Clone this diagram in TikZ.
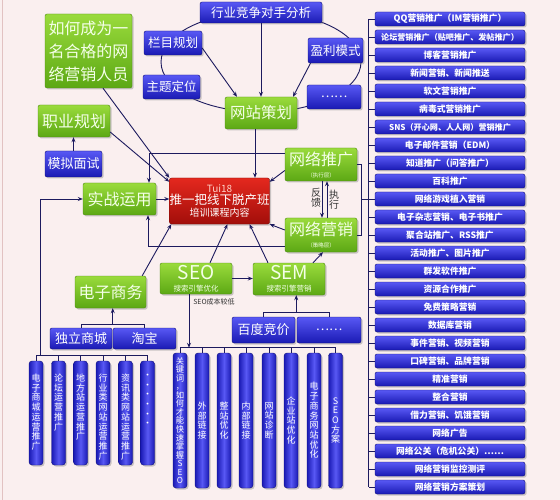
\documentclass[tikz,border=0pt]{standalone}
\usepackage{fontspec}
\setmainfont{Noto Sans CJK SC}
\usetikzlibrary{arrows.meta,shadows,calc}
\definecolor{bg}{HTML}{FAEFEF}
\definecolor{ln}{HTML}{1C1A5E}
\definecolor{gtop}{HTML}{9ADB3C}
\definecolor{gbot}{HTML}{5CA814}
\definecolor{gdark}{HTML}{4C8A12}
\definecolor{gtxt}{HTML}{F4FFE8}
\definecolor{btop}{HTML}{5858F4}
\definecolor{bbot}{HTML}{1A1AB4}
\definecolor{bdark}{HTML}{10107A}
\definecolor{rtop}{HTML}{E4281E}
\definecolor{rbot}{HTML}{A20E0A}
\definecolor{rdark}{HTML}{7A0806}
\definecolor{tuic}{HTML}{FFD2C8}
\definecolor{edge}{HTML}{E2C2C2}
\begin{document}
\begin{tikzpicture}[x=1pt,y=-1pt,
  wh/.style 2 args={minimum width=#1pt,minimum height=#2pt},
  box/.style={rounded corners=2pt, inner sep=0pt, align=center, line width=0.4pt,
     drop shadow={shadow xshift=1.5pt,shadow yshift=-1.5pt,opacity=0.4}},
  gbox/.style={box, top color=gtop, bottom color=gbot, draw=gdark, text=gtxt},
  bbox/.style={box, top color=btop, bottom color=bbot, draw=bdark, text=white},
  rbox/.style={box, top color=rtop, bottom color=rbot, draw=rdark, text=white},
  vbar/.style={bbox, rounded corners=3pt, left color=bbot, right color=bbot, middle color=btop},
  ritem/.style={bbox, wh={150}{14}, font=\fontsize{8.8}{10}\selectfont\bfseries},
  gfont/.style={font=\fontsize{16}{18}\selectfont},
  bfont/.style={font=\fontsize{12.5}{14}\selectfont},
  vtx/.style={inner sep=0pt, align=center, text=white, font=\fontsize{9}{9.7}\selectfont},
  ln/.style={draw=ln, line width=0.9pt},
  arr/.style={ln, -{Stealth[length=5pt,width=4pt]}},
  lbl/.style={inner sep=0pt, align=center, text=black!80}
]
\useasboundingbox (0,0) rectangle (560,500);
\fill[bg] (0,0) rectangle (560,500);
\draw[edge, line width=0.8pt] (2.5,0) -- (2.5,500);

% ring around website planning
\draw[ln] (261,62) ellipse [x radius=100pt, y radius=50pt];

% top group
\node[bbox, wh={122}{21}, bfont] (hyjz) at (261,12.5) {行业竞争对手分析};
\node[bbox, wh={58}{24}, bfont] (lm) at (173,43) {栏目规划};
\node[bbox, wh={57}{24}, bfont] (zt) at (171.5,87) {主题定位};
\node[bbox, wh={55}{25}, bfont] (yl) at (335.5,50.5) {盈利模式};
\node[bbox, wh={54}{24}, bfont] (dt1) at (334,97) {……};
\node[gbox, wh={72}{32}, font=\fontsize{15.5}{17}\selectfont] (wzch) at (261,113) {网站策划};

% left group
\node[gbox, wh={87}{74}, font=\fontsize{16}{23}\selectfont] (hy) at (88.5,51) {如何成为一\\名合格的网\\络营销人员};
\node[gbox, wh={72}{32}, gfont] (zy) at (74,121) {职业规划};
\node[bbox, wh={57}{26}, font=\fontsize{13}{14}\selectfont] (mn) at (73.5,164) {模拟面试};
\node[gbox, wh={73}{32}, gfont] (sz) at (119.5,199) {实战运用};
\node[gbox, wh={71}{32}, gfont] (ds) at (110.5,292) {电子商务};
\node[bbox, wh={62}{21}, font=\fontsize{13}{14}\selectfont] (dl) at (81,338.5) {独立商城};
\node[bbox, wh={63}{21}, font=\fontsize{13}{14}\selectfont] (tb) at (144.5,338.5) {淘宝};

% centre
\node[rbox, wh={97}{46}] (ctr) at (219.5,201)
  {\fontsize{10}{14}\selectfont\color{tuic}Tui18\\\fontsize{12.5}{14.5}\selectfont\color{white}推一把线下脱产班\\培训课程内容};

% right-centre
\node[gbox, wh={72}{33}] (wltg) at (321,164.5)
  {\fontsize{16}{16}\selectfont 网络推广\\\fontsize{5.5}{8}\selectfont （执行层）};
\node[gbox, wh={72}{34}] (wlyx) at (321,235)
  {\fontsize{16}{16}\selectfont 网络营销\\\fontsize{5.5}{8}\selectfont （策略层）};
\node[lbl, font=\fontsize{10}{10.5}\selectfont] (fk) at (316,198) {反\\馈};
\node[lbl, font=\fontsize{10}{10.5}\selectfont] (zx) at (334,199.5) {执\\行};

% SEO / SEM
\node[gbox, wh={72}{31}] (seo) at (196,278.5)
  {\fontsize{19}{17}\selectfont SEO\\\fontsize{7.5}{10}\selectfont 搜索引擎优化};
\node[gbox, wh={72}{32}] (sem) at (289,279)
  {\fontsize{19}{17}\selectfont SEM\\\fontsize{7.5}{10}\selectfont 搜索引擎营销};
\node[lbl, font=\fontsize{7}{8}\selectfont] (cb) at (214,302) {SEO成本较低};
\node[bbox, wh={63}{26}, font=\fontsize{13}{14}\selectfont] (bd) at (263.5,330) {百度竞价};
\node[bbox, wh={64}{26}, bfont] (dt2) at (329,330) {……};

% bottom-left bars
\foreach \x/\t [count=\i] in {36/{电\\子\\商\\城\\运\\营\\推\\广},
    58.5/{论\\坛\\运\\营\\推\\广},
    80.5/{地\\方\\站\\运\\营\\推\\广},
    103/{行\\业\\类\\网\\站\\运\\营\\推\\广},
    125.5/{资\\讯\\类\\网\\站\\运\\营\\推\\广},
    147.5/{·\\·\\·\\·\\·\\·}} {
  \node[vbar, wh={14}{104}] (b\i) at (\x,413) {};
  \node[vtx, anchor=north] (bt\i) at ([yshift=-13pt]b\i.north) {\t};
}

% bottom-middle bars
\node[vbar, wh={14}{135}, font=\fontsize{8.3}{8.55}\selectfont] (c1) at (180,420.5)
  {关\\键\\词\\，\\如\\何\\才\\能\\快\\速\\掌\\握\\S\\E\\O};
\foreach \x/\t [count=\i from 2] in {202/{外\\部\\链\\接},
    224/{整\\站\\优\\化},
    246/{内\\部\\链\\接},
    269/{网\\站\\诊\\断},
    291/{企\\业\\站\\优\\化},
    314/{电\\子\\商\\务\\网\\站\\优\\化},
    335.5/{S\\E\\O\\方\\案}} {
  \node[vbar, wh={14}{135}, vtx, text=white] (c\i) at (\x,420.5) {\t};
}

% right column
\foreach \t [count=\i] in {{QQ营销推广（IM营销推广）},
  {\fontsize{8.1}{10}\selectfont 论坛营销推广（贴吧推广、发帖推广）},
  {博客营销推广},{新闻营销、新闻推送},{软文营销推广},{病毒式营销推广},
  {\fontsize{8.1}{10}\selectfont SNS（开心网、人人网）营销推广},
  {电子邮件营销（EDM）},{知道推广（问答推广）},{百科推广},{网络游戏植入营销},
  {电子杂志营销、电子书推广},{聚合站推广、RSS推广},{活动推广、图片推广},
  {群发软件推广},{资源合作推广},{免费策略营销},{数据库营销},
  {事件营销、视频营销},{口碑营销、品牌营销},{精准营销},{整合营销},
  {借力营销、饥饿营销},{网络广告},{网络公关（危机公关）……},
  {网络营销监控测评},{网络营销方案策划}} {
  \node[ritem] (r\i) at (450,{19+18*(\i-1)}) {\t};
  \draw[ln] (r\i.west) -- ++(-6,0);
}
\draw[ln] ([xshift=-6pt]r1.west) -- ([xshift=-6pt]r27.west);

% connectors: top group
\draw[arr] (hyjz) -- (hyjz |- wzch.north);
\draw[arr] ([yshift=-5pt]lm.east) -- ([xshift=-24pt]wzch.north);
\draw[arr] ([xshift=-25pt]yl.south) -- ([xshift=32pt]wzch.north);
\draw[arr] ([xshift=-6pt]wzch.south) -- ([xshift=35.5pt]ctr.north);

% left group
\draw[arr] ([xshift=14.5pt]hy.south) -- (ctr.north west);
\draw[arr] ([yshift=-11pt]zy.east) -- ([yshift=-4pt]ctr.north west);
\draw[arr] (mn.north) -- (mn.north |- zy.south);
\draw[arr] (sz.east) -- (sz.east -| ctr.west);
\draw[arr] ([yshift=11.5pt]wltg.west) -| ([xshift=29.5pt]sz.north);
\draw[arr] ([yshift=-11pt]wlyx.west) -| ([xshift=28.5pt]sz.south);
\draw[arr] ([xshift=-4pt]ds.north east) -- ([xshift=2pt]ctr.south west);
\coordinate (dm) at ($(dl.north)!0.5!(tb.north)+(0,-3)$);
\draw[ln] (dl.north) -- ++(0,-3) -| (tb.north);
\draw[arr] (dm) -- (dm |- ds.south);

% bottom-left bars bracket
\coordinate (bbr) at ([yshift=5pt]b1.north);
\draw[ln] (bbr) -- ([yshift=5pt]b6.north);
\foreach \i in {1,...,6} { \draw[ln] (b\i.north) -- ++(0,-5); }
\draw[arr] ([xshift=4pt]bbr) |- (sz.west);

% right-centre
\draw[arr] ([yshift=-6pt]wltg.west) -- ([yshift=-4pt]ctr.north east);
\draw[arr] ([yshift=5pt]wlyx.west) -- (ctr.south east);
\draw[arr] ([xshift=1pt]wltg.south) -- ([xshift=1pt]wlyx.north);
\draw[arr] ([xshift=6pt]wlyx.north) -- ([xshift=6pt]wltg.south);
\draw[ln] (wltg.east) -- ++(4,0) |- (wlyx.east);
\draw[ln] ([xshift=4pt]wltg.east |- r11.west) -- ([xshift=-6pt]r11.west);

% SEO / SEM
\draw[arr] ([xshift=14pt]seo.north) -- ([xshift=8pt]ctr.south);
\draw[arr] ([xshift=-21pt]sem.north) -- ([xshift=30pt]ctr.south);
\draw[arr] ([xshift=24pt]sem.north) -- ([xshift=2pt]wlyx.south);
\draw[arr] (seo.east) -- (seo.east -| sem.west);
\coordinate (sm) at ($(bd.north)!0.5!(dt2.north)+(0,-4)$);
\draw[ln] (bd.north) -- ++(0,-4) -| (dt2.north);
\draw[arr] (sm) -- (sm |- sem.south);
\coordinate (cbr) at ([yshift=5pt]c1.north);
\draw[ln] (cbr) -- ([yshift=5pt]c8.north);
\foreach \i in {1,...,8} { \draw[ln] (c\i.north) -- ++(0,-5); }
\draw[arr] ([xshift=-7pt]seo.south) -- ([xshift=-7pt]seo.south |- cbr);
\end{tikzpicture}
\end{document}
